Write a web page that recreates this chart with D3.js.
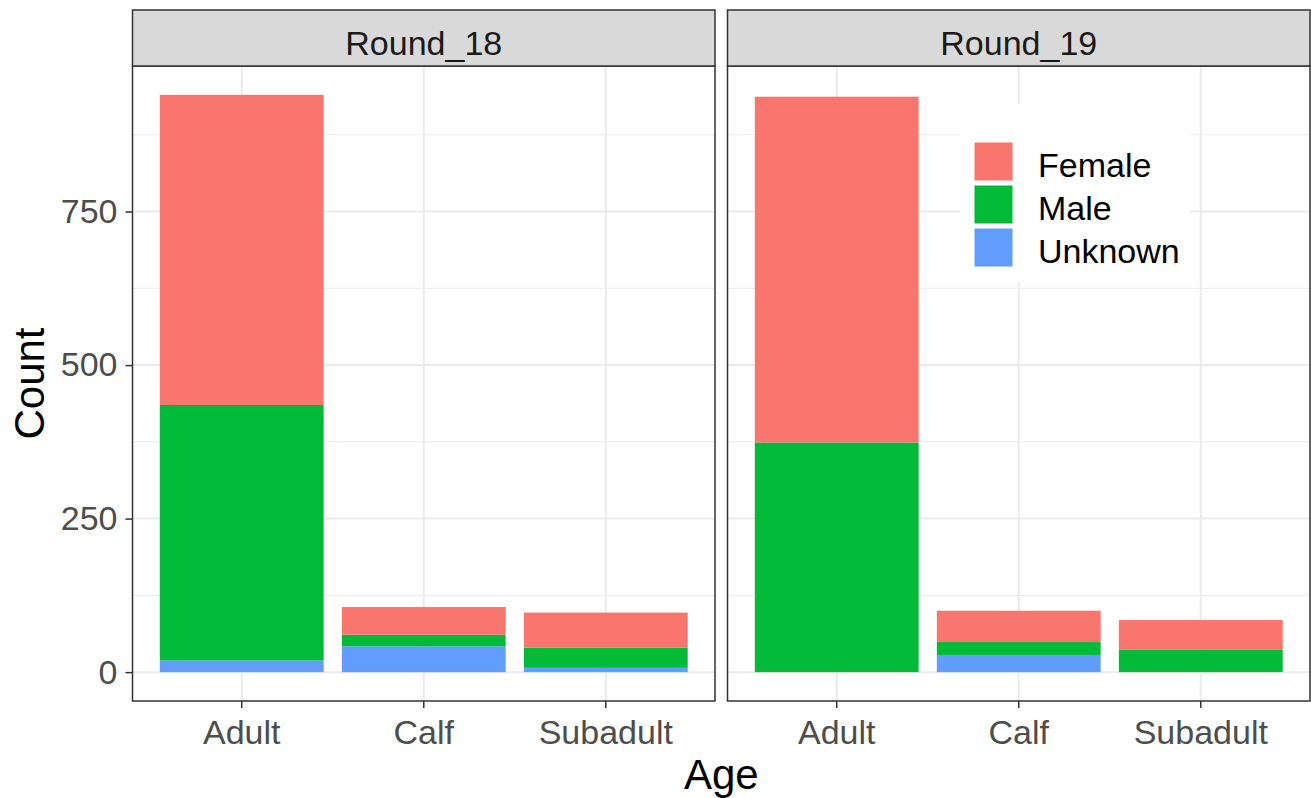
<!DOCTYPE html>
<html>
<head>
<meta charset="utf-8">
<script src="https://cdn.jsdelivr.net/npm/d3@7"></script>
<style>
  body { margin: 0; background: #fff; }
  text { font-family: "Liberation Sans", Arial, sans-serif; }
</style>
</head>
<body>
<div id="chart"></div>
<script>
// data
const rounds = ['Round_18', 'Round_19'];
const ages = ['Adult', 'Calf', 'Subadult'];
const sexes = ['Female', 'Male', 'Unknown'];
const sexColors = ['#F8766D', '#00BA38', '#619CFF'];

// counts per age class (Adult, Calf, Subadult)
const round18Female = [505, 45, 57];
const round18Male = [416, 19, 33];
const round18Unknown = [19, 42, 7];
const round19Female = [563, 51, 48];
const round19Male = [374, 21, 37];
const round19Unknown = [0, 28, 0];

const yTicks = [0, 250, 500, 750];

const width = 1311;
const height = 798;

const panelTop = 66;
const panelBottom = 701;
const stripTop = 10;
const panelLeft = [132.5, 727.5];
const panelW = 582.5;

const series = {
  Round_18: { Female: round18Female, Male: round18Male, Unknown: round18Unknown },
  Round_19: { Female: round19Female, Male: round19Male, Unknown: round19Unknown }
};

// build rows for d3.stack, stacking order: Unknown at bottom, Female on top
function rowsFor(r) {
  return ages.map((a, i) => ({
    age: a,
    Female: series[r].Female[i],
    Male: series[r].Male[i],
    Unknown: series[r].Unknown[i]
  }));
}

const stack = d3.stack().keys(['Unknown', 'Male', 'Female']);

const maxTotal = d3.max(rounds, r => d3.max(rowsFor(r), d => d.Female + d.Male + d.Unknown));
const pad = maxTotal * 0.05;

const y = d3.scaleLinear()
  .domain([-pad, maxTotal + pad])
  .range([panelBottom, panelTop]);

const color = d3.scaleOrdinal().domain(sexes).range(sexColors);

const svg = d3.select('#chart').append('svg')
  .attr('width', width)
  .attr('height', height);

const minorTicks = d3.range(125, maxTotal + pad, 250);

rounds.forEach((r, pi) => {
  const x0 = panelLeft[pi];
  const x = d3.scaleBand()
    .domain(ages)
    .range([x0, x0 + panelW])
    .paddingInner(0.1)
    .paddingOuter(0.15);

  const g = svg.append('g');

  // panel background grid
  g.append('g').selectAll('line.minor')
    .data(minorTicks)
    .enter().append('line')
    .attr('x1', x0).attr('x2', x0 + panelW)
    .attr('y1', d => y(d)).attr('y2', d => y(d))
    .attr('stroke', '#EBEBEB').attr('stroke-width', 1);

  g.append('g').selectAll('line.major')
    .data(yTicks)
    .enter().append('line')
    .attr('x1', x0).attr('x2', x0 + panelW)
    .attr('y1', d => y(d)).attr('y2', d => y(d))
    .attr('stroke', '#EBEBEB').attr('stroke-width', 2);

  g.append('g').selectAll('line.vx')
    .data(ages)
    .enter().append('line')
    .attr('x1', d => x(d) + x.bandwidth() / 2)
    .attr('x2', d => x(d) + x.bandwidth() / 2)
    .attr('y1', panelTop).attr('y2', panelBottom)
    .attr('stroke', '#EBEBEB').attr('stroke-width', 2);

  // stacked bars
  const layers = stack(rowsFor(r));
  g.append('g').selectAll('g')
    .data(layers)
    .enter().append('g')
    .attr('fill', d => color(d.key))
    .selectAll('rect')
    .data(d => d)
    .enter().append('rect')
    .attr('x', d => x(d.data.age))
    .attr('width', x.bandwidth())
    .attr('y', d => y(d[1]))
    .attr('height', d => y(d[0]) - y(d[1]));

  // panel border
  g.append('rect')
    .attr('x', x0).attr('y', panelTop)
    .attr('width', panelW).attr('height', panelBottom - panelTop)
    .attr('fill', 'none').attr('stroke', '#333333').attr('stroke-width', 1.5);

  // strip
  g.append('rect')
    .attr('x', x0).attr('y', stripTop)
    .attr('width', panelW).attr('height', panelTop - stripTop)
    .attr('fill', '#D9D9D9').attr('stroke', '#333333').attr('stroke-width', 1.5);

  g.append('text')
    .attr('x', x0 + panelW / 2)
    .attr('y', (stripTop + panelTop) / 2 + 5)
    .attr('dy', '0.35em')
    .attr('text-anchor', 'middle')
    .attr('font-size', 34)
    .attr('fill', '#1A1A1A')
    .text(r);

  // x axis
  const xAxis = g.append('g')
    .attr('transform', `translate(0,${panelBottom})`)
    .call(d3.axisBottom(x).tickSize(7).tickPadding(12));
  xAxis.select('.domain').remove();
  xAxis.selectAll('line').attr('stroke', '#333333').attr('stroke-width', 1.5);
  xAxis.selectAll('text')
    .attr('font-size', 34)
    .attr('fill', '#4D4D4D')
    .style('font-family', '"Liberation Sans", Arial, sans-serif');

  // y axis only on first panel
  if (pi === 0) {
    const yAxis = g.append('g')
      .attr('transform', `translate(${x0},0)`)
      .call(d3.axisLeft(y).tickValues(yTicks).tickSize(7).tickPadding(8));
    yAxis.select('.domain').remove();
    yAxis.selectAll('line').attr('stroke', '#333333').attr('stroke-width', 1.5);
    yAxis.selectAll('text')
      .attr('font-size', 34)
      .attr('fill', '#4D4D4D')
      .style('font-family', '"Liberation Sans", Arial, sans-serif');
  }
});

// axis titles
svg.append('text')
  .attr('x', (panelLeft[0] + panelLeft[1] + panelW) / 2)
  .attr('y', 789)
  .attr('text-anchor', 'middle')
  .attr('font-size', 42)
  .attr('fill', '#000')
  .text('Age');

svg.append('text')
  .attr('transform', `translate(44,${(panelTop + panelBottom) / 2}) rotate(-90)`)
  .attr('text-anchor', 'middle')
  .attr('font-size', 42)
  .attr('fill', '#000')
  .text('Count');

// legend inside the second panel
const legend = svg.append('g').attr('transform', 'translate(960,104)');
legend.append('rect')
  .attr('width', 230).attr('height', 178)
  .attr('fill', '#fff');

const keyStep = 43;
legend.selectAll('rect.key')
  .data(sexes)
  .enter().append('rect')
  .attr('class', 'key')
  .attr('x', 14)
  .attr('y', (d, i) => 38 + i * keyStep)
  .attr('width', 39)
  .attr('height', 39)
  .attr('fill', d => color(d))
  .attr('stroke', '#fff')
  .attr('stroke-width', 1);

legend.selectAll('text')
  .data(sexes)
  .enter().append('text')
  .attr('x', 78)
  .attr('y', (d, i) => 38 + i * keyStep + 23)
  .attr('dy', '0.35em')
  .attr('font-size', 34)
  .attr('fill', '#000')
  .text(d => d);
</script>
</body>
</html>
